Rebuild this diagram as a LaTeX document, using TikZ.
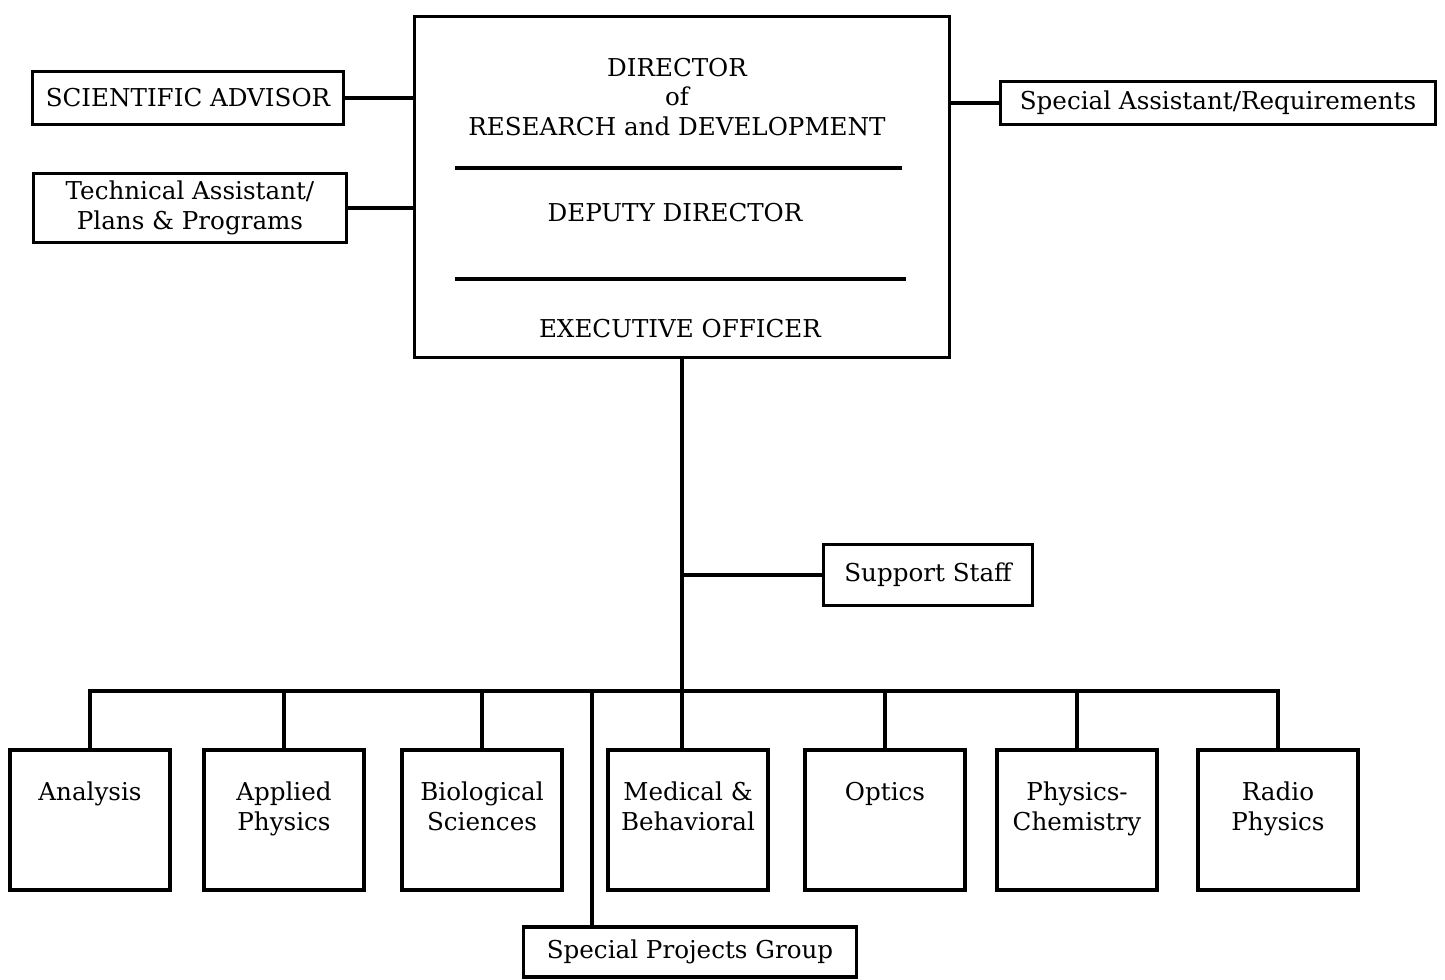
\documentclass[tikz,border=0pt]{standalone}
\usepackage{fontspec}
\setmainfont{DejaVu Serif}
\usetikzlibrary{positioning}
\tikzset{
    org chart/.style={
            x=0.02cm,y=-0.02cm,
            font=\fontsize{14}{17}\selectfont,
            orgbox/.style={draw,line width=1.8pt,inner sep=2pt,align=center},
            orgtext/.style={align=center,inner sep=0pt},
            unitbox/.style={orgbox,minimum width=3.2cm,minimum height=2.8cm},
            unitlabel/.style={align=center,anchor=north,inner sep=0pt,yshift=-0.66cm},
            link/.style={line width=1.8pt}
        }
    }

\begin{document}
\begin{tikzpicture}[org chart]
    \useasboundingbox (0,0) rectangle (1445,980);
    % director's office
    \node [orgbox,minimum width=10.7cm,minimum height=6.82cm] (dir) at (682,187) {};
    \node [orgtext] (dirtitle) at (677,97) {DIRECTOR\\of\\RESEARCH and DEVELOPMENT};
    \node [orgtext] (deputy) at (675,213) {DEPUTY DIRECTOR};
    \node [orgtext] (exec) at (680,329) {EXECUTIVE OFFICER};
    \draw [link] (455,168) -- (902,168);
    \draw [link] (455,279) -- (906,279);
    % staff
    \node [orgbox,minimum width=6.22cm,minimum height=1.06cm] (sci) at (188,98) {SCIENTIFIC ADVISOR};
    \node [orgbox,minimum width=6.26cm,minimum height=1.38cm] (tech) at (190,208) {Technical Assistant/\\Plans \& Programs};
    \node [orgbox,minimum width=8.7cm,minimum height=0.86cm] (spa) at (1218,103) {Special Assistant/Requirements};
    \node [orgbox,minimum width=4.18cm,minimum height=1.22cm] (sup) at (928,575) {Support Staff};
    \node [orgbox,minimum width=6.66cm,minimum height=1.0cm] (spg) at (690,952) {Special Projects Group};
    % divisions
    \node [unitbox,label={[unitlabel]north:Analysis}] (ana) at (90,820) {};
    \node [unitbox,label={[unitlabel]north:Applied\\Physics}] (aph) at (284,820) {};
    \node [unitbox,label={[unitlabel]north:Biological\\Sciences}] (bio) at (482,820) {};
    \node [unitbox,label={[unitlabel]north:Medical \&\\Behavioral}] (med) at (688,820) {};
    \node [unitbox,label={[unitlabel]north:Optics}] (opt) at (885,820) {};
    \node [unitbox,label={[unitlabel]north:Physics-\\Chemistry}] (phc) at (1077,820) {};
    \node [unitbox,label={[unitlabel]north:Radio\\Physics}] (rad) at (1278,820) {};
    % connections
    \draw [link] (sci.east) -- (sci.east -| dir.west);
    \draw [link] (tech.east) -- (tech.east -| dir.west);
    \draw [link] (spa.west -| dir.east) -- (spa.west);
    \coordinate (bus) at (682,691);
    \draw [link] (dir.south) -- (dir.south |- med.north);
    \draw [link] (dir.south |- sup.west) -- (sup.west);
    \draw [link] (ana.north) |- (rad.north |- bus) -- (rad.north);
    \draw [link] (aph.north) -- (aph.north |- bus);
    \draw [link] (bio.north) -- (bio.north |- bus);
    \draw [link] (opt.north) -- (opt.north |- bus);
    \draw [link] (phc.north) -- (phc.north |- bus);
    \coordinate (spgdrop) at (592,691);
    \draw [link] (spgdrop) -- (spgdrop |- spg.north);
\end{tikzpicture}
\end{document}
